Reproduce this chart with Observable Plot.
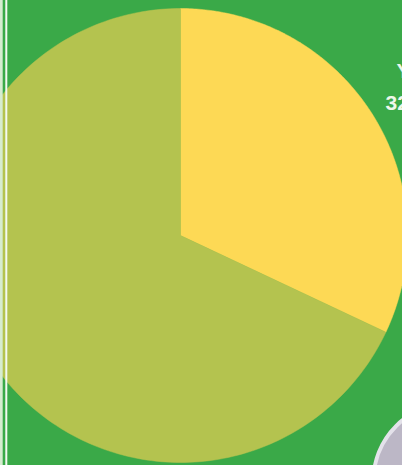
<!DOCTYPE html>
<html>
<head>
<meta charset="utf-8">
<script src="https://cdn.jsdelivr.net/npm/d3@7"></script>
<script src="https://cdn.jsdelivr.net/npm/@observablehq/plot@0.6"></script>
<style>
  html, body { margin: 0; padding: 0; background: #3aa948; overflow: hidden; }
  #chart svg { display: block; overflow: hidden; }
</style>
</head>
<body>
<div id="chart"></div>
<script>
// Data
const categories = ["Yes", "No"];
const values = [32, 68];
const sliceColors = ["#fdd955", "#b4c34f"];
const valueLabels = ["32%"];
const labelNames = ["Yes"];

const W = 402, H = 465;
const cx = 180, cy = 235, R = 227;

const arcs = d3.pie().sort(null).startAngle(0).endAngle(2 * Math.PI)(values);
const rows = [];
arcs.forEach((a, i) => {
  const name = categories[i];
  rows.push({slice: name, x: cx, y: cy});
  const n = 200;
  for (let k = 0; k <= n; k++) {
    const t = a.startAngle + (a.endAngle - a.startAngle) * k / n;
    rows.push({slice: name, x: cx + R * Math.sin(t), y: cy - R * Math.cos(t)});
  }
  rows.push({slice: name, x: cx, y: cy});
});

const chart = Plot.plot({
  width: W,
  height: H,
  margin: 0,
  style: {background: "#3aa948"},
  x: {domain: [0, W], range: [0, W], axis: null},
  y: {domain: [0, H], range: [0, H], axis: null},
  color: {domain: categories, range: sliceColors},
  marks: [
    Plot.line(rows, {x: "x", y: "y", z: "slice", fill: "slice", stroke: "slice", strokeWidth: 0.5}),
    Plot.dot([{x: 450, y: 480}], {x: "x", y: "y", r: 77, fill: "#bcb7c6", stroke: "#e4e2ea", strokeWidth: 4}),
    Plot.rect([{x1: 0, x2: 2.7, y1: 0, y2: H}], {x1: "x1", x2: "x2", y1: "y1", y2: "y2", fill: "#d6ecd0"}),
    Plot.rect([{x1: 5.3, x2: 7.3, y1: 0, y2: H}], {x1: "x1", x2: "x2", y1: "y1", y2: "y2", fill: "#f4faf2"}),
    Plot.text(valueLabels, {x: () => 385, y: () => 103, text: d => d, textAnchor: "start", fill: "#eef7ea", fontSize: 21, fontWeight: "bold", fontFamily: "Liberation Sans, Arial, sans-serif"}),
    Plot.text(labelNames, {x: () => 396, y: () => 71, text: d => d, textAnchor: "start", fill: "#eef7ea", fontSize: 21, fontWeight: "bold", fontFamily: "Liberation Sans, Arial, sans-serif"})
  ]
});
document.getElementById("chart").appendChild(chart);
</script>
</body>
</html>
